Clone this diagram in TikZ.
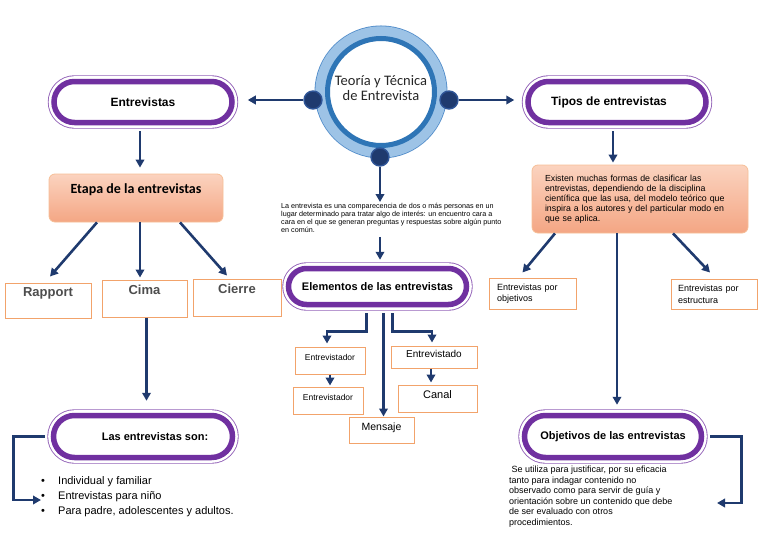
\documentclass[tikz,border=0pt]{standalone}
\usepackage{fontspec}
\setmainfont{Liberation Sans}
\newfontfamily\calibri{Carlito}
\usepackage{tikz}
\usetikzlibrary{calc,arrows.meta,shapes.misc}

\definecolor{marino}{HTML}{1F3A6E}
\definecolor{morado}{HTML}{7030A0}
\definecolor{naranja}{HTML}{F2A36B}
\definecolor{salmonA}{HTML}{FBD3BF}
\definecolor{salmonB}{HTML}{F4A684}
\definecolor{anilloClaro}{HTML}{9DC3E6}
\definecolor{anilloBorde}{HTML}{4F8BC9}
\definecolor{anilloMedio}{HTML}{2E75B6}
\definecolor{puntoAzul}{HTML}{2F5597}
\definecolor{gris}{HTML}{4D4D4D}

\newcommand{\fs}[2]{\fontsize{#1}{#2}\selectfont}

\begin{document}
\begin{tikzpicture}[x=1pt,y=-1pt,
		flecha/.style={draw=marino,line width=2.6pt,-{Triangle[length=8pt,width=8.5pt]}},
		pill/.style={rounded rectangle,fill=white,draw=morado,line width=5.5pt,inner sep=0pt,
			minimum height=41pt,minimum width=178pt,font=\bfseries\fs{12}{14},
			preaction={draw=morado!75,line width=12.4pt},preaction={draw=white,line width=10.6pt}},
		salmon/.style={rounded corners=6pt,draw=naranja!70,line width=0.8pt,top color=salmonA,bottom color=salmonB,inner sep=0pt},
		cuadro/.style={draw=naranja,line width=1pt,fill=white,inner sep=0pt},
		etapabox/.style={cuadro,font=\bfseries\fs{13}{15},text=gris,text height=9.5pt,text depth=17pt},
		chico/.style={cuadro,text height=7.5pt,text depth=7.5pt},
		punto/.style={circle,fill=marino,draw=puntoAzul,line width=1.4pt,minimum size=18pt,inner sep=0pt}]
	\useasboundingbox (0,0) rectangle (768,543);

	% centro
	\node(tema) [circle,fill=white,draw=anilloMedio,line width=5pt,minimum size=107pt,inner sep=0pt,
		preaction={draw=anilloBorde,line width=26pt},preaction={draw=anilloClaro,line width=24.4pt}] at (381,92) {};
	\node(temaTxt) [font=\calibri\fs{14.5}{15},text=black!85,align=center] at (381,88) {Teoría y Técnica\\de Entrevista};
	\node(dotL) [punto] at (313,100) {};
	\node(dotR) [punto] at (449,100) {};
	\node(dotB) [punto] at (380,157) {};

	% izquierda
	\node(entrev) [pill] at (143,102) {Entrevistas};
	\node(etapa) [salmon,minimum width=174pt,minimum height=48pt,font=\calibri\bfseries\fs{14}{16},
		text height=10pt,text depth=20pt] at (136,198) {Etapa de la entrevistas};
	\node(rapport) [etapabox,minimum width=86pt,minimum height=35pt] at (48,300.5) {Rapport};
	\node(cima) [etapabox,minimum width=85pt,minimum height=37pt] at (144.5,298.5) {Cima};
	\node(cierre) [etapabox,minimum width=88pt,minimum height=37pt] at (237,297.5) {Cierre};
	\node(son) [pill,minimum width=179pt,minimum height=42pt,font=\bfseries\fs{11}{13}] at (143,436.5) {\hspace*{24pt}Las entrevistas son:};
	\node(lista) [anchor=west,align=left,inner sep=0pt,font=\fs{11}{15}] at (41,497)
		{\makebox[17pt][l]{\textbullet}Individual y familiar\\
		 \makebox[17pt][l]{\textbullet}Entrevistas para niño\\
		 \makebox[17pt][l]{\textbullet}Para padre, adolescentes y adultos.};
	\coordinate (listaIn) at (41,500);

	\draw[flecha] (dotL.west) -- (dotL.west -| entrev.east) [shorten >=13pt];
	\draw[flecha] ([xshift=-3pt,yshift=-6pt]entrev.south) -- ([xshift=-3pt]entrev.south |- etapa.north) [shorten >=6pt];
	\draw[flecha] ([xshift=-39pt]etapa.south) -- ([xshift=2pt,yshift=6pt]rapport.north);
	\draw[flecha] ([xshift=4pt]etapa.south) -- ([xshift=4pt]etapa.south |- cima.north) [shorten >=2pt];
	\draw[flecha] ([xshift=44pt]etapa.south) -- ([xshift=-10pt,yshift=3pt]cierre.north);
	\draw[flecha] ([xshift=2pt]cima.south) -- ([xshift=2pt]cima.south |- son.north) [shorten >=12pt];
	\draw[flecha] ([xshift=-6pt]son.west) -- ++(-31,0) |- (listaIn);

	% centro abajo
	\node(defi) [anchor=north west,align=left,inner sep=0pt,font=\fs{7.2}{8}] at (281,203)
		{La entrevista es una comparecencia de dos o más personas en un\\
		 lugar determinado para tratar algo de interés: un encuentro cara a\\
		 cara en el que se generan preguntas y respuestas sobre algún punto\\
		 en común.};
	\node(elem) [pill,minimum height=36pt,font=\bfseries\fs{11}{13}] at (377.5,286.5) {Elementos de las entrevistas};
	\node(dor1) [chico,minimum width=70pt,minimum height=27pt,font=\fs{8.5}{10}] at (330,360.5) {Entrevistador};
	\node(dor2) [chico,minimum width=70pt,minimum height=27pt,font=\fs{8.5}{10}] at (328,400.5) {Entrevistador};
	\node(ado) [chico,minimum width=86pt,minimum height=22pt,font=\fs{10}{12}] at (434,357) {Entrevistado};
	\node(canal) [chico,minimum width=79pt,minimum height=27pt,font=\fs{11}{13}] at (437.5,398.5) {Canal};
	\node(mensaje) [chico,minimum width=65pt,minimum height=26pt,font=\fs{10.5}{12}] at (381.5,430) {Mensaje};
	\coordinate (elemC) at ([xshift=6pt,yshift=-6pt]elem.south);

	\draw[flecha] (dotB.south) -- (dotB.south |- defi.north) [shorten >=1pt];
	\draw[flecha] ([yshift=-4pt]dotB |- defi.south) -- (dotB |- elem.north) [shorten >=6pt];
	\draw[flecha] ([xshift=-11pt,yshift=-6pt]elem.south) -- ++(0,18) -| ([xshift=-3pt,yshift=3pt]dor1.north);
	\draw[flecha] ([xshift=15pt,yshift=-6pt]elem.south) -- ++(0,18) -| ([xshift=-2pt,yshift=3pt]ado.north);
	\draw[flecha] (elemC) -- (elemC |- mensaje.north);
	\draw[flecha] (dor1.south) -- (dor1.south |- dor2.north) [shorten >=1pt];
	\draw[flecha] ([xshift=-3pt]ado.south) -- ([xshift=-3pt]ado.south |- canal.north) [shorten >=2pt];

	% derecha
	\node(tipos) [pill] at (617,102) {Tipos de entrevistas\hspace*{16pt}};
	\node(formas) [salmon,minimum height=68pt,text width=190pt,inner xsep=13pt,align=left,font=\fs{8.8}{9.9}] at (640,199)
		{Existen muchas formas de clasificar las\\
		 entrevistas, dependiendo de la disciplina\\
		 científica que las usa, del modelo teórico que\\
		 inspira a los autores y del particular modo en\\
		 que se aplica.};
	\node(obj) [cuadro,minimum height=31pt,text width=71pt,inner xsep=8pt,align=left,font=\fs{9}{11}] at (532.5,293.5) {Entrevistas por\\objetivos};
	\node(estr) [cuadro,minimum height=30pt,text width=72pt,inner xsep=7pt,align=left,font=\fs{9}{12}] at (714,294) {Entrevistas por\\estructura};
	\node(objet) [pill,minimum width=177pt,minimum height=42pt,font=\bfseries\fs{11}{13}] at (613,436.5) {Objetivos de las entrevistas};
	\node(util) [anchor=north west,align=left,inner sep=0pt,font=\fs{9}{10.5}] at (509,466)
		{\ Se utiliza para justificar, por su eficacia\\
		 tanto para indagar contenido no\\
		 observado como para servir de guía y\\
		 orientación sobre un contenido que debe\\
		 de ser evaluado con otros\\
		 procedimientos.};
	\coordinate (objIn) at (717,503);

	\draw[flecha] (dotR.east) -- (dotR.east -| tipos.west) [shorten >=11pt];
	\draw[flecha] ([xshift=-4pt,yshift=-6pt]tipos.south) -- ([xshift=-4pt]tipos.south |- formas.north) [shorten >=2pt];
	\draw[flecha] ([xshift=-85pt]formas.south) -- ([xshift=-10pt,yshift=5pt]obj.north);
	\draw[flecha] ([xshift=33pt]formas.south) -- ([xshift=-4pt,yshift=6pt]estr.north);
	\draw[flecha] ([xshift=-23pt]formas.south) -- ([xshift=-23pt]formas.south |- objet.north) [shorten >=8pt];
	\draw[flecha] ([xshift=6pt]objet.east) -- ++(31,0) |- (objIn);
\end{tikzpicture}
\end{document}
